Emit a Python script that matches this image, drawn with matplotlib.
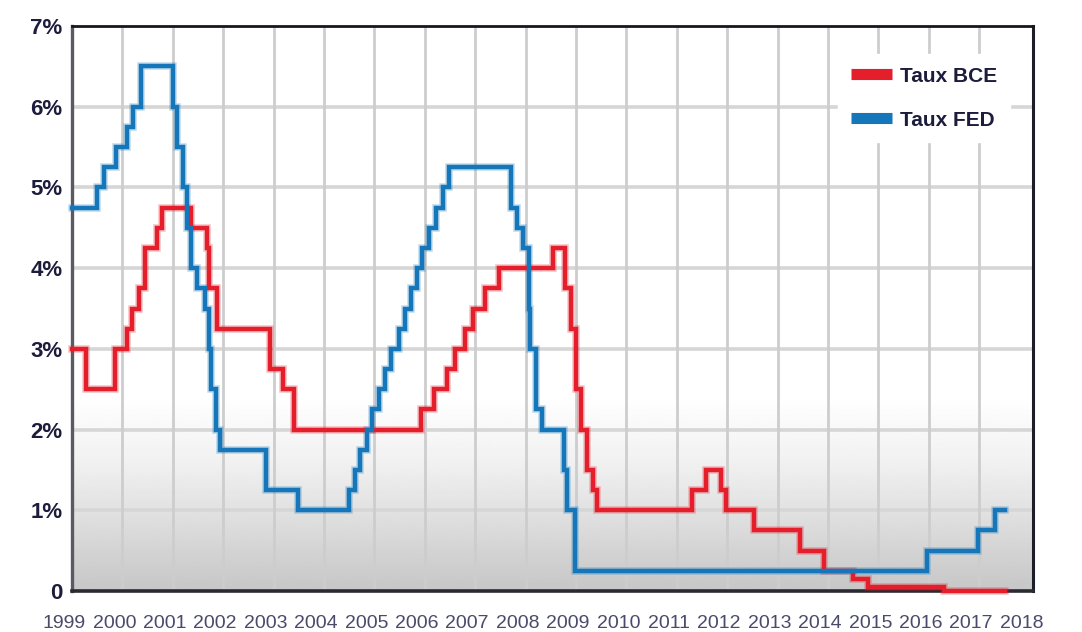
import numpy as np
import matplotlib
matplotlib.use("Agg")
import matplotlib.pyplot as plt
from matplotlib.lines import Line2D
import matplotlib.transforms as mtransforms

# ---------------- data ----------------
years = list(range(1999, 2019))
ytick_vals = [0, 1, 2, 3, 4, 5, 6, 7]
ytick_labels = ["0", "1%", "2%", "3%", "4%", "5%", "6%", "7%"]

ecb_dates = [1999.00, 1999.27, 1999.85, 2000.09, 2000.20, 2000.33, 2000.44, 2000.69,
             2000.78, 2001.37, 2001.67, 2001.72, 2001.88, 2002.93, 2003.18, 2003.41,
             2005.93, 2006.19, 2006.45, 2006.61, 2006.79, 2006.95, 2007.20, 2007.47,
             2008.54, 2008.78, 2008.91, 2009.00, 2009.11, 2009.22, 2009.33, 2009.42,
             2011.30, 2011.58, 2011.88, 2011.98, 2012.54, 2013.45, 2013.92, 2014.50,
             2014.80, 2016.30, 2017.52]
ecb_rates = [3.00, 2.50, 3.00, 3.25, 3.50, 3.75, 4.25, 4.50,
             4.75, 4.50, 4.25, 3.75, 3.25, 2.75, 2.50, 2.00,
             2.25, 2.50, 2.75, 3.00, 3.25, 3.50, 3.75, 4.00,
             4.25, 3.75, 3.25, 2.50, 2.00, 1.50, 1.25, 1.00,
             1.25, 1.50, 1.25, 1.00, 0.75, 0.50, 0.25, 0.15,
             0.05, 0.00, 0.00]

fed_dates = [1999.00, 1999.50, 1999.64, 1999.87, 2000.09, 2000.22, 2000.37, 2001.00,
             2001.08, 2001.21, 2001.29, 2001.37, 2001.49, 2001.64, 2001.71, 2001.75,
             2001.85, 2001.94, 2002.85, 2003.48, 2004.49, 2004.61, 2004.72, 2004.86,
             2004.95, 2005.09, 2005.22, 2005.34, 2005.49, 2005.61, 2005.72, 2005.84,
             2005.95, 2006.08, 2006.22, 2006.36, 2006.49, 2007.71, 2007.83, 2007.94,
             2008.06, 2008.08, 2008.21, 2008.33, 2008.77, 2008.83, 2008.99, 2015.97,
             2016.97, 2017.32, 2017.52]
fed_rates = [4.75, 5.00, 5.25, 5.50, 5.75, 6.00, 6.50, 6.00,
             5.50, 5.00, 4.50, 4.00, 3.75, 3.50, 3.00, 2.50,
             2.00, 1.75, 1.25, 1.00, 1.25, 1.50, 1.75, 2.00,
             2.25, 2.50, 2.75, 3.00, 3.25, 3.50, 3.75, 4.00,
             4.25, 4.50, 4.75, 5.00, 5.25, 4.75, 4.50, 4.25,
             3.50, 3.00, 2.25, 2.00, 1.50, 1.00, 0.25, 0.50,
             0.75, 1.00, 1.00]

series_labels = ["Taux BCE", "Taux FED"]
series_colors = ["#e41e2b", "#1576ba"]

# ---------------- style ----------------
FONT = ["Liberation Sans Narrow", "Liberation Sans", "DejaVu Sans"]
plt.rcParams["font.family"] = FONT

fig = plt.figure(figsize=(10.82, 6.32), dpi=100)
ax = fig.add_axes([72 / 1082, 1 - 591 / 632, (1033 - 72) / 1082, (591 - 26) / 632])

x0, x1 = 1999.0, 2018.07
ax.set_xlim(x0, x1)
ax.set_ylim(0, 7)

# background gradient (white at top, grey at bottom)
yy = np.linspace(0, 7, 400)
shade = np.interp(yy, [0, 0.5, 1.0, 1.6, 2.4, 7], [0.78, 0.83, 0.885, 0.945, 1.0, 1.0])
img = np.repeat(shade[:, None], 2, axis=1)
ax.imshow(img, extent=[x0, x1, 0, 7], origin="lower", aspect="auto",
          cmap="gray", vmin=0, vmax=1, zorder=0, interpolation="bilinear")

# grid
for v in ytick_vals[1:-1]:
    ax.axhline(v, color="#d6d6d6", lw=2.6, zorder=1)
for y in years[1:-1]:
    ax.axvline(y, color="#cdcdcd", lw=2.0, zorder=1)

# series
for dates, rates, col, lab in [(ecb_dates, ecb_rates, series_colors[0], series_labels[0]),
                               (fed_dates, fed_rates, series_colors[1], series_labels[1])]:
    ax.step(dates, rates, where="post", color=col, lw=5.4, alpha=0.28, zorder=7,
            solid_joinstyle="miter", clip_on=False)
    ax.step(dates, rates, where="post", color=col, lw=3.2, zorder=8,
            solid_joinstyle="miter", label=lab, clip_on=False)

# spines
ax.spines["left"].set_color("#5a5a64")
ax.spines["left"].set_linewidth(2.4)
ax.spines["top"].set_color("#16161f")
ax.spines["top"].set_linewidth(2.0)
ax.spines["right"].set_color("#1e1e28")
ax.spines["right"].set_linewidth(2.2)
ax.spines["bottom"].set_color("#2a2a33")
ax.spines["bottom"].set_linewidth(2.6)
for s in ax.spines.values():
    s.set_zorder(6)

# ticks
ax.set_yticks(ytick_vals)
ax.set_yticklabels(ytick_labels, fontsize=16, fontweight="bold", color="#1c1c3c")
ax.tick_params(axis="y", length=0, pad=7)
ax.set_xticks(years)
ax.set_xticklabels([str(y) for y in years], fontsize=14, color="#4a4a6a")
ax.tick_params(axis="x", length=0, pad=17)
offset = mtransforms.ScaledTranslation(-8 / 100, 0, fig.dpi_scale_trans)
for lbl in ax.get_xticklabels():
    lbl.set_transform(lbl.get_transform() + offset)

# legend
handles = [Line2D([0], [0], color=c, lw=8, solid_capstyle="butt") for c in series_colors]
leg = ax.legend(handles, series_labels, loc="upper left",
                bbox_to_anchor=(838 / 1082, 1 - 54 / 632), bbox_transform=fig.transFigure,
                frameon=True, fancybox=False, framealpha=1.0, edgecolor="white",
                facecolor="white", prop={"family": FONT, "weight": "bold", "size": 15},
                handlelength=2.0, handletextpad=0.4, labelspacing=1.2,
                borderpad=0.6, borderaxespad=0)
for t in leg.get_texts():
    t.set_color("#1c1c3c")
leg.set_zorder(9)

fig.savefig("out.png", dpi=100)
